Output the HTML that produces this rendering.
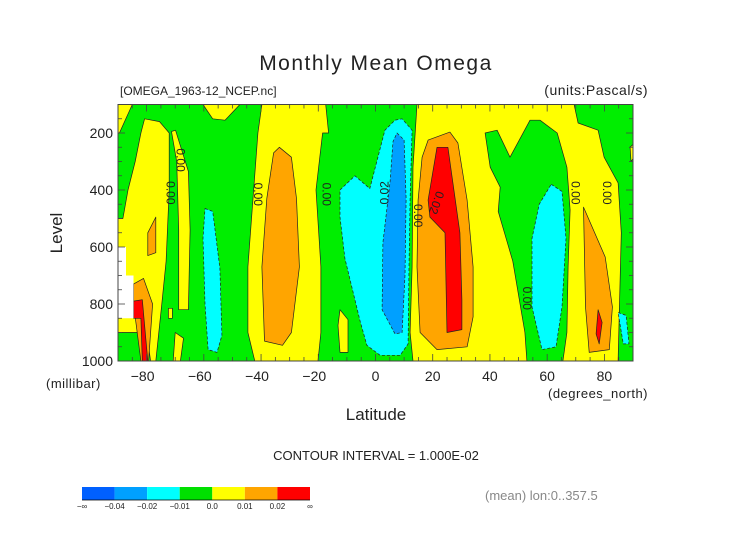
<!DOCTYPE html>
<html><head><meta charset="utf-8"><style>
body{margin:0;background:#fff;}
svg text{font-family:"Liberation Sans",sans-serif;fill:#222;}
</style></head><body>
<svg id="chart" width="752" height="532" viewBox="0 0 752 532" xmlns="http://www.w3.org/2000/svg">
<text x="376" y="70" text-anchor="middle" font-size="21" style="font-weight:300;letter-spacing:1.5px">Monthly Mean Omega</text>
<text x="120" y="95" font-size="12">[OMEGA_1963-12_NCEP.nc]</text>
<text x="648" y="95" text-anchor="end" font-size="14" style="letter-spacing:0.5px">(units:Pascal/s)</text>
<g id="plot"></g>
<g id="axes"></g>
<text transform="translate(62,233) rotate(-90)" text-anchor="middle" font-size="17">Level</text>
<text x="46" y="388" font-size="13" style="letter-spacing:0.5px">(millibar)</text>
<text x="376" y="420" text-anchor="middle" font-size="17">Latitude</text>
<text x="648" y="398" text-anchor="end" font-size="13" style="letter-spacing:0.5px">(degrees_north)</text>
<text x="376" y="460" text-anchor="middle" font-size="13">CONTOUR INTERVAL = 1.000E-02</text>
<text x="485" y="500" font-size="13" style="fill:#888">(mean) lon:0..357.5</text>
<g id="colorbar"></g>
</svg>
<script>
const xTicks=[-80,-60,-40,-20,0,20,40,60,80];
const yTicks=[200,400,600,800,1000];
const cbLabels=["-∞","-0.04","-0.02","-0.01","0.0","0.01","0.02","∞"];
const cbColors=["#0060ff","#00a0ff","#00ffff","#00e000","#ffff00","#ffa500","#ff0000"];
// contour regions in (lat, level) pairs
const regYellowA=[[-80.7,150],[-82,200],[-84,300],[-86.5,400],[-88.3,500],[-90,500],[-90,900],[-80,900],[-78.6,1000],[-76.8,1000],[-74.7,800],[-73.2,650],[-72.1,400],[-72.1,200],[-75.5,160]];
const regYellowTL=[[-90,100],[-85,100],[-89.5,200],[-90,200]];
const regWhite=[[-90,600],[-87.2,600],[-87.2,700],[-84.6,700],[-84.6,850],[-90,850]];
const regOrangeA=[[-84.6,730],[-81.1,710],[-77.9,800],[-79.3,1000],[-82,1000],[-84.6,800]];
const regRed=[[-84.6,790],[-81.5,785],[-79.6,1000],[-81.5,1000],[-82,850],[-84.6,850]];
const regOrangeBlob=[[-79.6,550],[-76.8,495],[-76.8,620],[-79.6,630]];
const regYellowB=[[-71.3,195],[-69.9,190],[-65.4,335],[-64.8,540],[-65.4,820],[-68.8,820],[-68.8,540],[-69.5,300]];
const regYellowS1=[[-72.4,815],[-71,815],[-71,850],[-72.4,850]];
const regYellowS2=[[-70,900],[-67.1,920],[-68.2,1000],[-70.7,1000]];
const regCyanA=[[-59.6,465],[-56.9,475],[-54.4,675],[-53.7,910],[-55.4,970],[-58.5,960],[-59.6,800],[-60.3,570]];
const regYellowC=[[-39.7,100],[-41.1,200],[-42.8,430],[-44.6,670],[-44.6,900],[-42.2,1000],[-20.1,1000],[-19.1,900],[-19.1,670],[-20.8,400],[-18.5,200],[-16.4,200],[-17.4,100]];
const regYellowCT=[[-60.3,100],[-47.4,100],[-52.6,155],[-56.9,150]];
const regOrangeC=[[-33.6,250],[-29.4,285],[-27.6,430],[-26.6,670],[-29.4,900],[-32.5,945],[-38.8,930],[-39.7,670],[-38,430],[-35.6,270]];
const regYellowS3=[[-12.4,820],[-9.6,855],[-9.6,970],[-12.4,970],[-13.1,875]];
const regCyanB=[[-12.4,400],[-7.2,350],[-2,395],[3.3,190],[6.8,155],[9.3,150],[12.8,190],[12.1,430],[11.7,670],[11.4,940],[8.6,980],[1.6,980],[-3,945],[-5.4,860],[-10.7,640],[-12.4,495]];
const regBlue=[[7.5,200],[10,225],[10.7,430],[10.3,700],[9.3,900],[6.8,905],[2.3,820],[2.6,585],[5.1,370],[6.1,230]];
const regYellowD=[[14.5,100],[69.4,100],[70.8,165],[77.8,190],[79.9,285],[84.8,375],[85.9,550],[85.2,830],[84.8,1000],[13.1,1000],[12.1,900],[12.8,670],[13.1,320]];
const regGreenD=[[38.3,200],[42.5,190],[47,285],[54,155],[57.5,155],[63.5,200],[66.9,320],[68,470],[67.3,670],[66.9,900],[65.5,1000],[52.9,1000],[52.2,900],[48,650],[42.9,475],[43.6,390],[40.1,320]];
const regCyanC=[[61.4,380],[65.2,405],[66.6,570],[65.2,810],[63.1,950],[58.2,960],[54.7,810],[54.7,570],[57.2,450]];
const regOrangeD=[[72.7,460],[80.3,635],[82.8,810],[81.7,960],[74.7,970],[73.4,810]];
const regRedD=[[77.8,820],[79.2,865],[78.2,940],[77.1,905]];
const regOrangeE=[[18.4,225],[26,197],[28.8,235],[32,435],[34.1,670],[34.1,845],[32,950],[21.5,960],[15.6,900],[14.5,670],[14.9,435],[16.3,285]];
const regRedE=[[21.5,250],[25.3,250],[29.5,550],[30.2,785],[30.2,890],[25,900],[24.3,550],[19,495],[18.4,435]];
const regCyanS=[[84.8,830],[87.6,840],[88.6,940],[86.6,940]];
const regYellowTR=[[89,250],[90,240],[90,290],[89.3,300]];
const contourLabels=[["0.00",-73,410,1],["0.00",-69.5,295,1],["0.00",-42.5,415,1],["0.00",-18.5,415,1],["0.02",4.5,410,0],["0.00",13.5,490,1],["0.02",20,440,2],["0.00",51.5,780,1],["0.00",68.5,410,1],["0.00",79.5,410,1]];

const X0=118,X1=633,Y0=104.5,Y1=361;
const xs=lat=>X0+(lat+90)*(X1-X0)/180;
const ys=lev=>Y0+(lev-100)*(Y1-Y0)/900;
const NS="http://www.w3.org/2000/svg";
const plot=document.getElementById('plot');
function mk(tag,parent){const e=document.createElementNS(NS,tag);parent.appendChild(e);return e;}
const bg=mk('rect',plot);


bg.setAttribute('x',X0);bg.setAttribute('y',Y0);bg.setAttribute('width',X1-X0);bg.setAttribute('height',Y1-Y0);bg.setAttribute('fill','#00ee00');
const regions=[
 [regYellowA,'#ffff00',0,'yellow-region'],[regYellowTL,'#ffff00',0,'yellow-region'],[regYellowCT,'#ffff00',0,'yellow-region'],
 [regOrangeA,'#ffa500',0,'orange-region'],[regRed,'#ff0000',0,'red-region'],[regWhite,'#ffffff',2,'missing-region'],
 [regOrangeBlob,'#ffa500',0,'orange-region'],[regYellowB,'#ffff00',0,'yellow-region'],[regYellowS1,'#ffff00',0,'yellow-region'],
 [regYellowS2,'#ffff00',0,'yellow-region'],[regCyanA,'#00ffff',1,'cyan-region'],[regYellowC,'#ffff00',0,'yellow-region'],
 [regOrangeC,'#ffa500',0,'orange-region'],[regYellowS3,'#ffff00',0,'yellow-region'],[regCyanB,'#00ffff',1,'cyan-region'],
 [regBlue,'#00a0ff',1,'blue-region'],[regYellowD,'#ffff00',0,'yellow-region'],[regGreenD,'#00ee00',0,'green-region'],
 [regCyanC,'#00ffff',1,'cyan-region'],[regOrangeD,'#ffa500',0,'orange-region'],[regRedD,'#ff0000',0,'red-region'],
 [regOrangeE,'#ffa500',0,'orange-region'],[regRedE,'#ff0000',0,'red-region'],[regCyanS,'#00ffff',1,'cyan-region'],
 [regYellowTR,'#ffff00',0,'yellow-region']];
regions.forEach(r=>{
 const p=mk('polygon',plot);
 
 
 p.setAttribute('points',r[0].map(q=>xs(q[0]).toFixed(1)+','+ys(q[1]).toFixed(1)).join(' '));
 p.setAttribute('fill',r[1]);
 if(r[2]==2){p.setAttribute('stroke','none');}
 else{p.setAttribute('stroke','#222');p.setAttribute('stroke-width','0.7');p.setAttribute('stroke-linejoin','round');}
 if(r[2]==1)p.setAttribute('stroke-dasharray','3,2');
});
contourLabels.forEach(l=>{
 const t=mk('text',plot);
 
 
 const x=xs(l[1]),y=ys(l[2]);
 t.setAttribute('x',x);t.setAttribute('y',y);
 t.setAttribute('font-size','12');t.setAttribute('text-anchor','middle');
 const ang=l[3]==0?-90:(l[3]==2?110:90);
 t.setAttribute('transform',`rotate(${ang} ${x} ${y})`);
 t.textContent=l[0];
});
const ax=document.getElementById('axes');
const fr=mk('rect',ax);


fr.setAttribute('x',X0);fr.setAttribute('y',Y0);fr.setAttribute('width',X1-X0);fr.setAttribute('height',Y1-Y0);fr.setAttribute('fill','none');fr.setAttribute('stroke','#444');fr.setAttribute('stroke-width','1');
function line(x1,y1,x2,y2){const l=mk('line',ax);l.setAttribute('x1',x1);l.setAttribute('y1',y1);l.setAttribute('x2',x2);l.setAttribute('y2',y2);l.setAttribute('stroke','#444');l.setAttribute('stroke-width','0.8');return l;}
for(let lat=-90;lat<=90;lat+=5){const L=(lat%20===0)?7:4;const x=xs(lat);
 const a=line(x,Y1,x,Y1-L);
 const b=line(x,Y0,x,Y0+L);}
for(let lev=100;lev<=1000;lev+=50){const L=(lev%200===0)?7:4;const y=ys(lev);
 const a=line(X0,y,X0+L,y);
 const b=line(X1,y,X1-L,y);}
xTicks.forEach(v=>{const t=mk('text',ax);
 
 
 t.setAttribute('x',xs(v)-(v<0?4:0));t.setAttribute('y',Y1+20);t.setAttribute('text-anchor','middle');t.setAttribute('font-size','14');
 t.textContent=(v<0?'\u2212'+(-v):v);});
yTicks.forEach(v=>{const t=mk('text',ax);
 
 
 t.setAttribute('x',X0-5);t.setAttribute('y',ys(v)+5);t.setAttribute('text-anchor','end');t.setAttribute('font-size','14');
 t.textContent=v;});
const cb=document.getElementById('colorbar');
const cbX=82,cbW=228,cbY=487,cbH=13,bw=cbW/cbColors.length;
cbColors.forEach((c,i)=>{const r=mk('rect',cb);
 
 
 r.setAttribute('x',cbX+i*bw);r.setAttribute('y',cbY);r.setAttribute('width',bw);r.setAttribute('height',cbH);r.setAttribute('fill',c);});
const cbl=mk('line',cb);cbl.setAttribute('x1',cbX);cbl.setAttribute('x2',cbX+cbW);cbl.setAttribute('y1',cbY+cbH);cbl.setAttribute('y2',cbY+cbH);cbl.setAttribute('stroke','#000');cbl.setAttribute('stroke-width','0.8');


cbLabels.forEach((s,i)=>{const t=mk('text',cb);
 
 
 t.setAttribute('x',cbX+i*bw);t.setAttribute('y',cbY+22);t.setAttribute('text-anchor','middle');t.setAttribute('font-size','8');
 t.textContent=s.replace('-','\u2212');});
</script>
</body></html>
